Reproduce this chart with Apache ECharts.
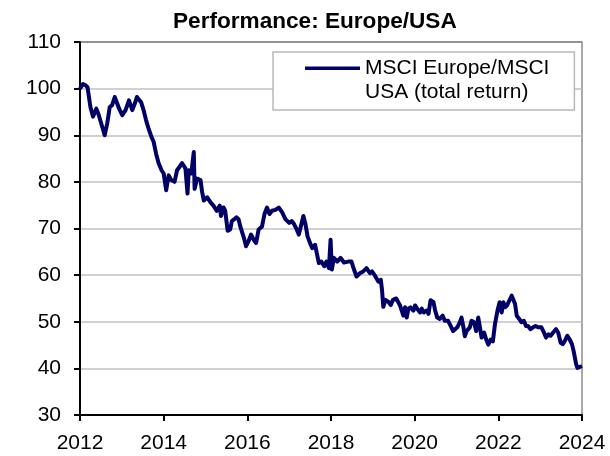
<!DOCTYPE html>
<html>
<head>
<meta charset="utf-8">
<script src="https://cdn.jsdelivr.net/npm/echarts@6/dist/echarts.min.js"></script>
<style>
html,body{margin:0;padding:0;background:#fff;}
#chart{width:610px;height:456px;}
</style>
</head>
<body>
<div id="chart"></div>
<script>
// ---- data ----
const seriesName = 'MSCI Europe/MSCI\nUSA (total return)';
const chartTitle = 'Performance: Europe/USA';

// dates as decimal years
const dates = [
  2012.00, 2012.07, 2012.13, 2012.18, 2012.25, 2012.31, 2012.39, 2012.45, 2012.49, 2012.59,
  2012.65, 2012.71, 2012.77, 2012.83, 2012.89, 2012.93, 2013.01, 2013.09, 2013.17, 2013.25,
  2013.31, 2013.36, 2013.40, 2013.46, 2013.52, 2013.58, 2013.64, 2013.71, 2013.76, 2013.82,
  2013.88, 2013.95, 2014.00, 2014.06, 2014.12, 2014.18, 2014.26, 2014.32, 2014.44, 2014.52,
  2014.57, 2014.60, 2014.66, 2014.72, 2014.74, 2014.80, 2014.88, 2014.92, 2014.96, 2015.04,
  2015.12, 2015.19, 2015.27, 2015.34, 2015.37, 2015.43, 2015.47, 2015.53, 2015.59, 2015.63,
  2015.69, 2015.74, 2015.79, 2015.83, 2015.87, 2015.93, 2015.97, 2016.03, 2016.09, 2016.15,
  2016.21, 2016.27, 2016.35, 2016.41, 2016.47, 2016.53, 2016.59, 2016.67, 2016.75, 2016.83,
  2016.91, 2016.94, 2017.00, 2017.06, 2017.12, 2017.18, 2017.23, 2017.28, 2017.34, 2017.39,
  2017.44, 2017.50, 2017.55, 2017.62, 2017.66, 2017.71, 2017.77, 2017.84, 2017.89, 2017.95,
  2017.99, 2018.02, 2018.07, 2018.15, 2018.23, 2018.31, 2018.41, 2018.49, 2018.55, 2018.61,
  2018.69, 2018.77, 2018.85, 2018.93, 2018.98, 2019.05, 2019.13, 2019.19, 2019.22, 2019.25,
  2019.30, 2019.37, 2019.43, 2019.48, 2019.56, 2019.62, 2019.65, 2019.69, 2019.73, 2019.77,
  2019.81, 2019.85, 2019.90, 2019.97, 2020.01, 2020.06, 2020.13, 2020.17, 2020.22, 2020.29,
  2020.33, 2020.38, 2020.45, 2020.49, 2020.54, 2020.60, 2020.67, 2020.72, 2020.80, 2020.86,
  2020.92, 2020.96, 2021.02, 2021.08, 2021.12, 2021.16, 2021.20, 2021.24, 2021.28, 2021.32,
  2021.36, 2021.42, 2021.47, 2021.52, 2021.56, 2021.60, 2021.66, 2021.71, 2021.76, 2021.82,
  2021.87, 2021.92, 2021.98, 2022.03, 2022.08, 2022.12, 2022.16, 2022.21, 2022.26, 2022.32,
  2022.35, 2022.40, 2022.44, 2022.50, 2022.55, 2022.61, 2022.66, 2022.71, 2022.77, 2022.83,
  2022.89, 2022.95, 2023.03, 2023.09, 2023.14, 2023.20, 2023.25, 2023.31, 2023.38, 2023.43,
  2023.49, 2023.54, 2023.59, 2023.65, 2023.70, 2023.76, 2023.80, 2023.84, 2023.86, 2023.89,
  2023.92, 2023.97, 2024.00
];

const values = [
  100.0, 101.0, 100.7, 100.3, 96.0, 94.0, 95.7, 94.3, 94.6, 90.0,
  92.5, 96.0, 96.5, 98.2, 96.8, 95.8, 94.3, 95.4, 97.5, 95.4,
  96.8, 98.2, 98.6, 97.1, 95.4, 93.2, 91.4, 89.6, 88.6, 86.0,
  84.0, 82.5, 81.8, 78.2, 81.4, 80.4, 80.0, 82.5, 84.0, 82.9,
  77.5, 82.5, 81.8, 86.4, 78.5, 80.7, 80.4, 77.8, 76.0, 76.7,
  75.6, 74.9, 73.8, 74.9, 72.7, 74.5, 73.8, 69.5, 69.8, 71.6,
  72.0, 72.4, 72.0, 70.5, 70.2, 67.6, 66.2, 67.3, 68.7, 67.6,
  66.9, 69.8, 70.4, 73.1, 74.5, 73.1, 73.8, 74.0, 74.5, 73.5,
  72.0, 71.9, 71.2, 71.6, 70.9, 69.8, 68.7, 70.5, 72.7, 70.9,
  68.3, 66.9, 65.8, 66.5, 64.7, 62.6, 62.9, 61.9, 62.9, 61.5,
  67.6, 61.2, 63.7, 62.9, 63.7, 62.7, 62.9, 62.9, 61.2, 59.7,
  60.4, 60.8, 61.5, 60.4, 60.8, 59.9, 58.6, 59.0, 56.8, 53.2,
  54.7, 54.3, 53.6, 54.7, 55.0, 54.0, 53.5, 52.4, 51.3, 53.1,
  50.9, 52.8, 53.1, 52.4, 53.5, 52.8, 52.0, 52.8, 52.0, 52.4,
  51.7, 54.6, 54.2, 52.4, 50.9, 50.6, 51.3, 50.2, 50.2, 49.1,
  48.0, 47.7, 48.8, 49.9, 50.9, 49.1, 46.9, 48.0, 47.7, 48.8,
  50.2, 49.9, 48.0, 50.9, 48.8, 46.6, 47.7, 46.2, 45.1, 46.2,
  45.8, 49.5, 52.4, 54.2, 52.0, 54.2, 53.1, 53.5, 54.5, 55.6,
  56.0, 53.8, 51.3, 50.6, 49.9, 50.2, 49.1, 49.1, 48.4, 48.8,
  49.1, 48.8, 48.8, 47.7, 46.6, 47.3, 47.0, 47.7, 48.4, 47.7,
  45.5, 45.2, 45.9, 47.0, 46.3, 45.2, 43.7, 43.4, 40.9, 40.1,
  39.8, 40.4, 40.5
];

const xTicks = [2012, 2014, 2016, 2018, 2020, 2022, 2024];
const yTicks = [30, 40, 50, 60, 70, 80, 90, 100, 110];

// ---- chart ----
const FONT = '"Liberation Sans", Arial, sans-serif';
const chart = echarts.init(document.getElementById('chart'), null, {renderer: 'canvas'});

const gridColors = yTicks.map((v, i) => i === yTicks.length - 1 ? '#8c8c8c' : '#c0c0c0');

chart.setOption({
  animation: false,
  backgroundColor: '#ffffff',
  title: {
    text: chartTitle,
    left: 168,
    top: 5,
    textStyle: {fontFamily: FONT, fontSize: 22.6, fontWeight: 'bold', color: '#000'}
  },
  grid: {
    left: 80, right: 28, top: 42, bottom: 41,
    show: true, borderColor: '#8c8c8c', borderWidth: 1.5, backgroundColor: '#fff'
  },
  legend: {
    left: 273, top: 52,
    padding: [4, 25, 6, 32],
    borderColor: '#b8b8b8', borderWidth: 1.5, borderRadius: 0,
    backgroundColor: '#fff',
    itemWidth: 55, itemHeight: 48,
    icon: 'path://M0,0 M55,48 M0,10.5 L55,10.5 L55,14 L0,14 Z',
    symbolKeepAspect: false,
    itemStyle: {borderWidth: 0},
    selectedMode: false,
    textStyle: {fontFamily: FONT, fontSize: 21, lineHeight: 24, color: '#000'}
  },
  xAxis: {
    type: 'value',
    min: xTicks[0], max: xTicks[xTicks.length - 1], interval: 2,
    axisLine: {show: true, onZero: false, lineStyle: {color: '#000', width: 2}},
    axisTick: {show: true, length: 6, lineStyle: {color: '#000', width: 2}},
    splitLine: {show: false},
    axisLabel: {
      fontFamily: FONT, fontSize: 21, color: '#000', margin: 18,
      formatter: v => String(v)
    }
  },
  yAxis: {
    type: 'value',
    min: yTicks[0], max: yTicks[yTicks.length - 1], interval: 10,
    axisLine: {show: true, lineStyle: {color: '#000', width: 2}},
    axisTick: {show: true, length: 6, lineStyle: {color: '#000', width: 2}},
    splitLine: {show: true, lineStyle: {color: gridColors, width: 1.5}},
    axisLabel: {
      fontFamily: FONT, fontSize: 21, color: '#000', margin: 19,
      formatter: v => String(v)
    }
  },
  series: [{
    name: seriesName,
    type: 'line',
    data: dates.map((d, i) => [d, values[i]]),
    symbol: 'none',
    showSymbol: false,
    lineStyle: {color: '#000066', width: 4, join: 'round'},
    itemStyle: {color: '#000066'},
    z: 3
  }]
});
</script>
</body>
</html>
